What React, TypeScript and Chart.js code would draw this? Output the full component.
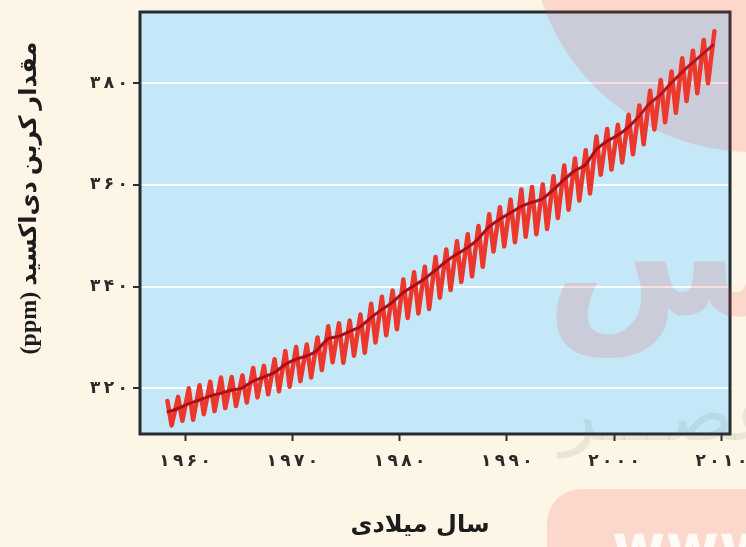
import React, { useEffect, useRef } from "react";
import { Chart, registerables } from "chart.js";

Chart.register(...registerables);

// ---- data (Mauna Loa CO2, ppm) ----
const years = [
  1958, 1959, 1960, 1961, 1962, 1963, 1964, 1965, 1966, 1967,
  1968, 1969, 1970, 1971, 1972, 1973, 1974, 1975, 1976, 1977,
  1978, 1979, 1980, 1981, 1982, 1983, 1984, 1985, 1986, 1987,
  1988, 1989, 1990, 1991, 1992, 1993, 1994, 1995, 1996, 1997,
  1998, 1999, 2000, 2001, 2002, 2003, 2004, 2005, 2006, 2007,
  2008, 2009,
];
// spring (May) seasonal maxima
const springPeak = [
  317.5, 318.3, 320.0, 320.6, 321.3, 322.1, 322.2, 322.5, 324.0, 324.4,
  325.7, 327.3, 328.1, 328.6, 330.0, 332.2, 332.8, 333.3, 334.5, 336.6,
  338.0, 339.2, 341.4, 342.8, 343.9, 345.8, 347.3, 348.9, 350.3, 351.9,
  354.2, 355.6, 357.1, 359.1, 359.6, 360.1, 361.7, 363.8, 365.2, 366.8,
  369.5, 371.0, 371.8, 373.8, 375.6, 378.5, 380.6, 382.3, 384.9, 386.4,
  388.5, 390.2,
];
// autumn (Sep/Oct) seasonal minima
const autumnLow = [
  312.7, 313.6, 313.8, 314.9, 315.5, 316.1, 316.5, 317.2, 318.2, 318.8,
  319.4, 320.3, 321.4, 322.1, 323.6, 325.1, 325.0, 326.4, 327.0, 329.0,
  330.4, 331.6, 333.8, 334.7, 335.6, 337.8, 339.3, 340.9, 342.0, 343.9,
  346.9, 347.9, 348.7, 349.8, 350.3, 351.3, 353.5, 355.1, 356.9, 358.3,
  362.0, 363.0, 364.4, 366.0, 368.0, 370.9, 372.3, 374.2, 376.5, 378.0,
  380.0, null,
];
// annual mean (trend line)
const annualMean = [
  315.3, 315.97, 316.91, 317.64, 318.45, 318.99, 319.62, 320.04, 321.37, 322.18,
  323.05, 324.62, 325.68, 326.32, 327.46, 329.68, 330.19, 331.13, 332.03, 333.84,
  335.41, 336.84, 338.76, 340.12, 341.48, 343.15, 344.87, 346.35, 347.61, 349.31,
  351.69, 353.2, 354.45, 355.7, 356.54, 357.21, 358.96, 360.97, 362.74, 363.88,
  366.84, 368.54, 369.71, 371.32, 373.45, 375.98, 377.7, 379.98, 382.09, 384.02,
  385.83, 387.64,
];
const peakPhase = 0.35;
const lowPhase = 0.75;
const meanPhase = 0.3;

const xTicks = [1960, 1970, 1980, 1990, 2000, 2010];
const yTicks = [320, 340, 360, 380];
const xRange = [1955.8, 2010.8];
const yRange = [311, 394];

const xTitle = "سال میلادی";
const yTitle = "مقدار کربن دی‌اکسید (ppm)";

const faDigits = "۰۱۲۳۴۵۶۷۸۹";
// Persian digits, spaced apart with thin spaces like the printed figure
const toFa = (v: number | string) =>
  String(v)
    .split("")
    .map((d) => faDigits[Number(d)])
    .join("\u2009");

export default function App() {
  const ref = useRef<HTMLCanvasElement | null>(null);

  useEffect(() => {
    document.body.style.margin = "0";
    const canvas = ref.current;
    if (!canvas) return;

    const seasonal: { x: number; y: number }[] = [];
    years.forEach((yr, i) => {
      seasonal.push({ x: yr + peakPhase, y: springPeak[i] });
      if (autumnLow[i] != null) seasonal.push({ x: yr + lowPhase, y: autumnLow[i] as number });
    });
    const trend = years.map((yr, i) => ({ x: yr + meanPhase, y: annualMean[i] }));

    const decor = {
      id: "decor",
      beforeDraw(chart: any) {
        const { ctx, chartArea: a, width, height } = chart;
        ctx.save();
        ctx.fillStyle = "#fdf6e6";
        ctx.fillRect(0, 0, width, height);
        ctx.fillStyle = "#c4e8f7";
        ctx.fillRect(a.left, a.top, a.right - a.left, a.bottom - a.top);
        ctx.restore();
      },
      afterDraw(chart: any) {
        const { ctx, chartArea: a } = chart;
        ctx.save();
        ctx.strokeStyle = "#262b2f";
        ctx.lineWidth = 3;
        ctx.strokeRect(a.left, a.top, a.right - a.left, a.bottom - a.top);

        // axis titles
        ctx.fillStyle = "#1c1c1c";
        ctx.direction = "rtl";
        ctx.textAlign = "center";
        ctx.textBaseline = "middle";
        ctx.font = "bold 24px 'DejaVu Sans'";
        ctx.fillText(xTitle, 420, 526);
        ctx.save();
        ctx.translate(30, 198);
        ctx.rotate(-Math.PI / 2);
        ctx.font = "bold 24px 'Liberation Serif', 'DejaVu Sans'";
        ctx.fillText(yTitle, 0, 0);
        ctx.restore();

        // background watermark of the source page
        ctx.fillStyle = "rgba(240,60,60,0.16)";
        ctx.beginPath();
        ctx.arc(752, -70, 222, 0, Math.PI * 2);
        ctx.fill();
        ctx.beginPath();
        ctx.roundRect(547, 489, 260, 120, 34);
        ctx.fill();
        ctx.direction = "rtl";
        ctx.textAlign = "left";
        ctx.textBaseline = "alphabetic";
        ctx.font = "bold 180px 'DejaVu Sans'";
        ctx.fillText("س", 545, 314);
        ctx.fillStyle = "rgba(90,90,90,0.10)";
        ctx.font = "76px 'DejaVu Sans'";
        ctx.textAlign = "right";
        ctx.fillText("عصـــر", 780, 440);
        ctx.direction = "ltr";
        ctx.textAlign = "left";
        ctx.fillStyle = "rgba(255,252,248,0.95)";
        ctx.font = "bold 58px 'DejaVu Sans'";
        ctx.fillText("www", 612, 566);
        ctx.restore();
      },
    };

    const tickFont = { family: "'DejaVu Sans'", size: 17, weight: "bold" as const };

    const chart = new Chart(canvas, {
      type: "line",
      data: {
        datasets: [
          {
            data: trend,
            borderColor: "#ad0f1a",
            borderWidth: 3,
            pointRadius: 0,
            tension: 0.2,
            borderJoinStyle: "round",
          },
          {
            data: seasonal,
            borderColor: "#ec372c",
            borderWidth: 4.5,
            pointRadius: 0,
            tension: 0,
            borderJoinStyle: "round",
            borderCapStyle: "round",
          },
        ],
      },
      options: {
        responsive: false,
        animation: false,
        layout: { padding: { top: 12, right: 16, left: 0, bottom: 0 } },
        plugins: { legend: { display: false }, tooltip: { enabled: false } },
        scales: {
          x: {
            type: "linear",
            min: xRange[0],
            max: xRange[1],
            afterBuildTicks: (s: any) => {
              s.ticks = xTicks.map((v) => ({ value: v }));
            },
            afterFit: (s: any) => {
              s.height = 113;
              s.paddingLeft = 0;
              s.paddingRight = 0;
            },
            ticks: {
              callback: (v: any) => toFa(v),
              autoSkip: false,
              maxRotation: 0,
              minRotation: 0,
              padding: 10,
              color: "#2a2a2a",
              font: tickFont,
            },
            grid: {
              drawOnChartArea: false,
              drawTicks: true,
              tickLength: 7,
              tickWidth: 2,
              tickColor: "#2b2f33",
            },
            border: { display: false },
          },
          y: {
            type: "linear",
            min: yRange[0],
            max: yRange[1],
            afterBuildTicks: (s: any) => {
              s.ticks = yTicks.map((v) => ({ value: v }));
            },
            afterFit: (s: any) => {
              s.width = 140;
              s.paddingTop = 0;
              s.paddingBottom = 0;
            },
            ticks: {
              callback: (v: any) => toFa(v),
              padding: 5,
              color: "#2a2a2a",
              font: tickFont,
            },
            grid: {
              color: "rgba(255,255,255,0.92)",
              lineWidth: 2,
              drawTicks: true,
              tickLength: 7,
              tickWidth: 2,
              tickColor: "#2b2f33",
            },
            border: { display: false },
          },
        },
      },
      plugins: [decor],
    } as any);

    return () => chart.destroy();
  }, []);

  return <canvas ref={ref} width={746} height={547} style={{ display: "block" }} />;
}
